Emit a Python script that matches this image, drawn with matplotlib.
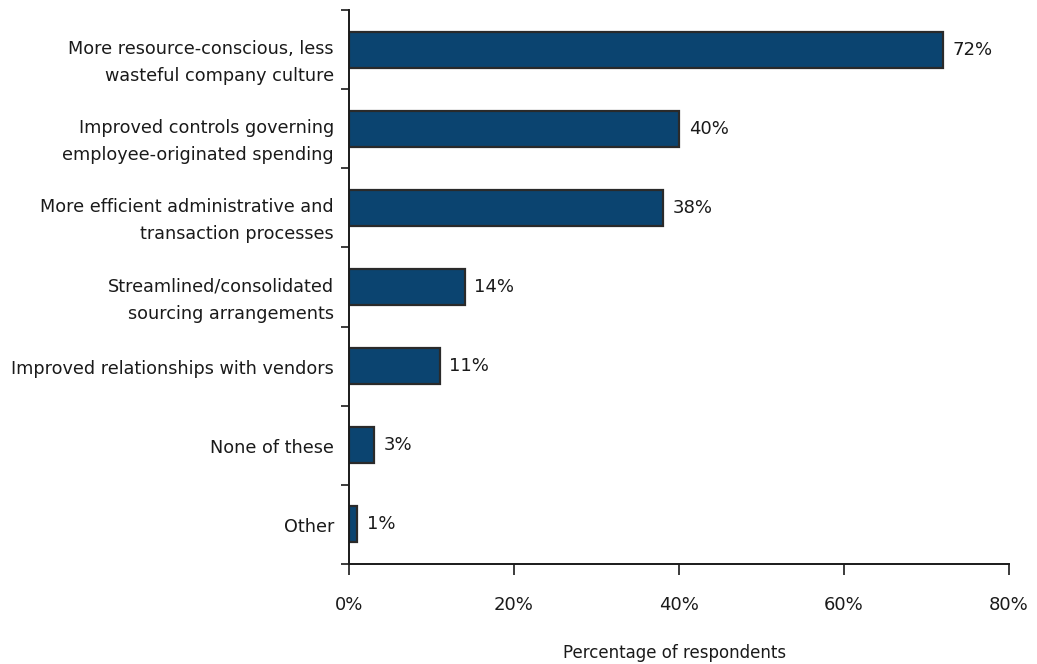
import matplotlib
matplotlib.use("Agg")
import matplotlib.pyplot as plt
import matplotlib.transforms as mtransforms
import numpy as np

plt.rcParams['font.family'] = ['DejaVu Sans']

categories = [
    "More resource-conscious, less\nwasteful company culture",
    "Improved controls governing\nemployee-originated spending",
    "More efficient administrative and\ntransaction processes",
    "Streamlined/consolidated\nsourcing arrangements",
    "Improved relationships with vendors",
    "None of these",
    "Other",
]
values = [72, 40, 38, 14, 11, 3, 1]
xticks = [0, 20, 40, 60, 80]
xticklabels = ["0%", "20%", "40%", "60%", "80%"]

W, H = 1037, 664
fig = plt.figure(figsize=(W / 100, H / 100), dpi=100)
ax = fig.add_axes([349 / W, 1 - 564 / H, (1009 - 349) / W, (564 - 10) / H])

TXT = "#1a1a1a"
y = np.arange(len(categories))
ax.barh(y, values, height=0.455, color="#0b4470", edgecolor="#2a2a2a", linewidth=1.6)
for yi, v in zip(y, values):
    ax.annotate(f"{v}%", xy=(v, yi), xytext=(7, 0), textcoords="offset points",
                va="center", ha="left", fontsize=13, color=TXT)

ax.set_xlim(0, 80)
ax.set_ylim(len(categories) - 0.5, -0.5)

# category labels (drawn as text so multi-line spacing is controlled)
ax.set_yticks(y)
ax.set_yticklabels([])
ax.tick_params(axis="y", which="major", length=0)
for yi, lab in zip(y, categories):
    dy = -13 / 100 if "\n" in lab else -3 / 100
    tr = ax.transData + mtransforms.ScaledTranslation(-15 / 100, dy, fig.dpi_scale_trans)
    ax.text(0, yi, lab, transform=tr, ha="right", va="center", fontsize=12.7,
            color=TXT, linespacing=1.65, multialignment="right")

ax.set_yticks(np.arange(-0.5, len(categories), 1), minor=True)
ax.tick_params(axis="y", which="minor", length=6, width=1.2, direction="out", color=TXT)

ax.set_xticks(xticks)
ax.set_xticklabels(xticklabels)
ax.tick_params(axis="x", length=8, width=1.2, pad=15, direction="out", labelsize=13,
               labelcolor=TXT, color=TXT)
fig.text(675 / W, 1 - 653 / H, "Percentage of respondents", fontsize=12,
         color=TXT, ha="center", va="center")

for s in ["top", "right"]:
    ax.spines[s].set_visible(False)
for s in ["left", "bottom"]:
    ax.spines[s].set_linewidth(1.4)
    ax.spines[s].set_color(TXT)

fig.savefig("out.png", dpi=100)
